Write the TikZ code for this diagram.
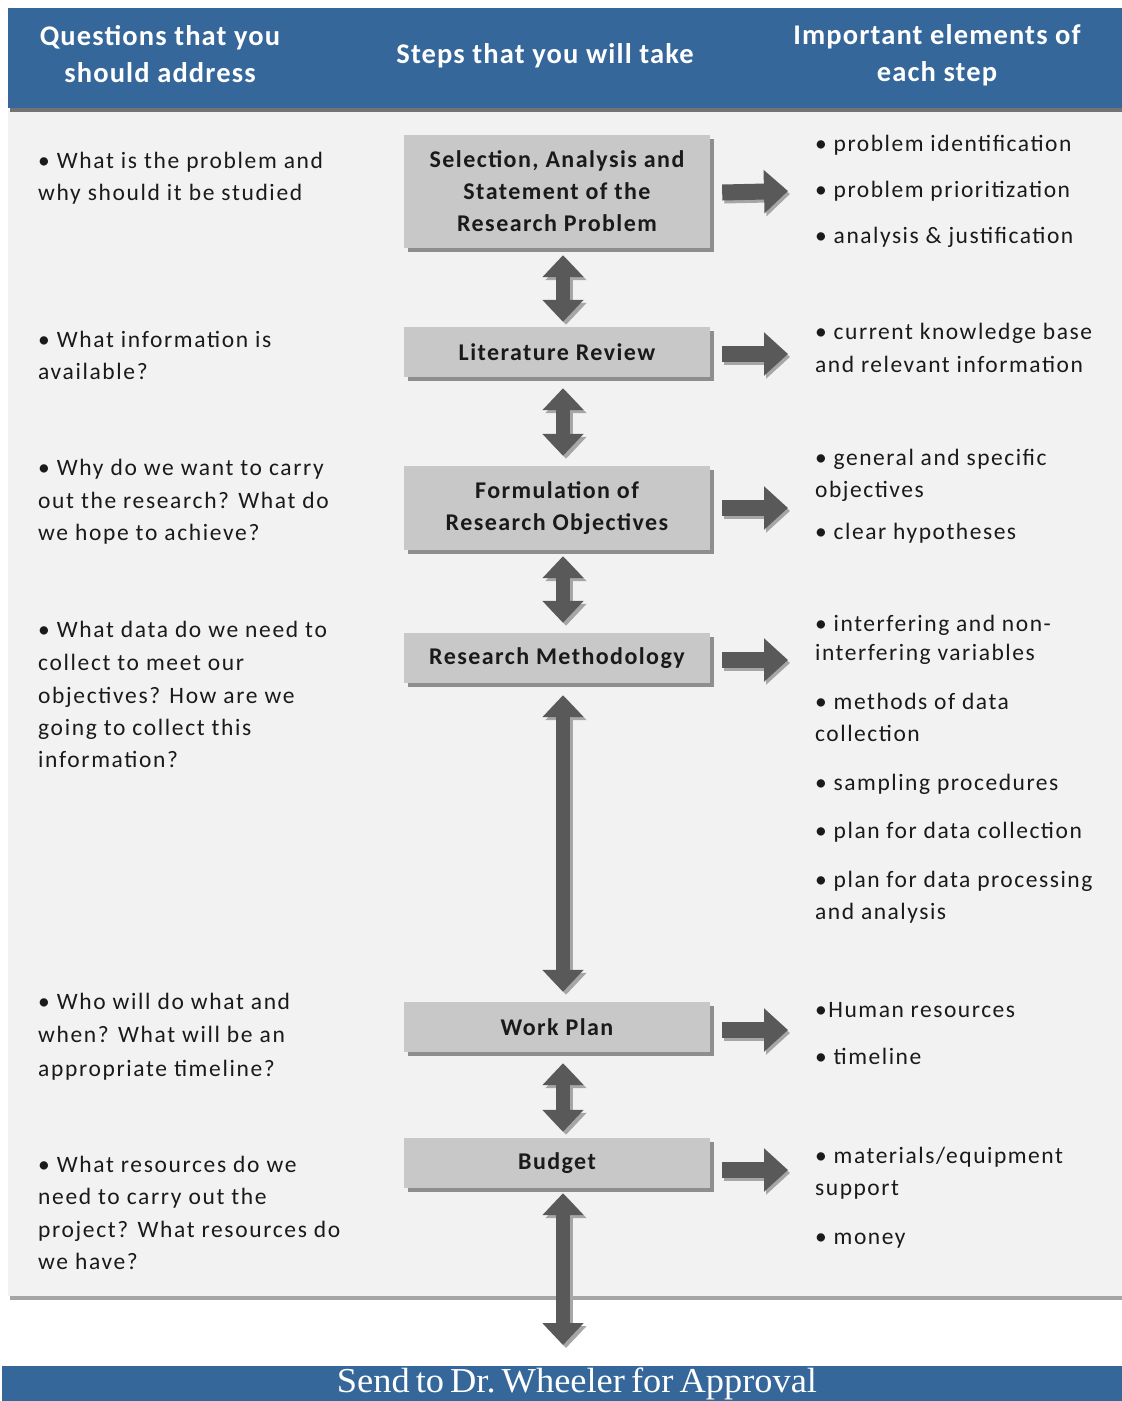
\documentclass[tikz,border=0pt]{standalone}
\usepackage{fontspec}
\setmainfont{Carlito}
\newfontfamily\bannerfont{Liberation Serif}
\usetikzlibrary{arrows.meta}
\definecolor{hdrblue}{HTML}{35679A}
\definecolor{panel}{HTML}{F2F2F2}
\definecolor{boxfill}{HTML}{C8C8C8}
\definecolor{boxshadow}{HTML}{8E8E8E}
\definecolor{arr}{HTML}{595959}
\definecolor{arrsh}{HTML}{A6A6A6}
\definecolor{txt}{HTML}{1A1A1A}
\tikzset{
  stepbox/.style={fill=boxfill, minimum width=306pt, inner sep=0pt, align=center,
    font=\fontsize{24}{32}\selectfont\bfseries\addfontfeature{LetterSpace=6}, text=txt},
  hdr/.style={text=white, align=center, font=\fontsize{28.5}{37}\selectfont\bfseries\addfontfeature{LetterSpace=4}},
  qline/.style={anchor=mid west, inner sep=0pt, yshift=-6pt, text=txt, font=\fontsize{23.5}{30}\selectfont\addfontfeature{LetterSpace=7}},
  eline/.style={anchor=mid west, inner sep=0pt, yshift=-6pt, text=txt, font=\fontsize{23.5}{30}\selectfont\addfontfeature{LetterSpace=6.5}},
  varrow/.style={line width=14pt, draw=arr, {Triangle[width=40pt,length=22pt]}-{Triangle[width=40pt,length=22pt]}},
  varrowsh/.style={varrow, draw=arrsh, transform canvas={xshift=3pt,yshift=-3pt}},
  rarrow/.style={line width=16pt, draw=arr, -{Triangle[width=42pt,length=24pt]}},
  rarrowsh/.style={rarrow, draw=arrsh, transform canvas={xshift=2pt,yshift=-3pt}},
}
\newcommand{\mkbox}[4]{%
  \fill[boxshadow] (404+4,#2+4) rectangle (710+4,#3+4);
  \node[stepbox, minimum height={#3-#2}] (#1) at (557,{(#2+#3)/2}) {#4};}
\newcommand{\dbl}[2]{%
  \draw[varrowsh] #1 -- #2;
  \draw[varrow] #1 -- #2;}
\newcommand{\rgt}[2]{%
  \draw[rarrowsh] #1 -- #2;
  \draw[rarrow] #1 -- #2;}
\begin{document}
\begin{tikzpicture}[x=1pt,y=-1pt]
\useasboundingbox (0,0) rectangle (1122,1401);
\fill[white] (0,0) rectangle (1122,1401);
% body panel
\fill[black!35] (10,1294) rectangle (1122,1300);
\fill[panel] (8,110) rectangle (1122,1296);
% header
\fill[black!55] (10,104) rectangle (1122,112);
\fill[hdrblue] (8,8) rectangle (1122,108);
\node[hdr] (h1) at (160,54) {Questions that you\\should address};
\node[hdr] (h2) at (545,56) {Steps that you will take};
\node[hdr] (h3) at (937,55) {Important elements of\\each step};
% bottom banner
\fill[hdrblue] (2,1366) rectangle (1122,1401);
\node[inner sep=0pt, text=white, font=\bannerfont\fontsize{35}{35}\selectfont] (banner) at (577,1383.5)
  {\scalebox{1.04}[1]{Send\,to\,Dr.\,Wheeler\,for\,Approval}};
\coordinate (bannertop) at (563,1345);
% step boxes
\mkbox{b1}{135}{248}{Selection, Analysis and\\Statement of the\\Research Problem}
\mkbox{b2}{327}{377}{Literature Review}
\mkbox{b3}{466}{550}{Formulation of\\Research Objectives}
\mkbox{b4}{633}{683}{Research Methodology}
\mkbox{b5}{1002}{1052}{Work Plan}
\mkbox{b6}{1138}{1188}{Budget}
% vertical arrows
\dbl{([xshift=6pt,yshift=-7pt]b1.south)}{([xshift=6pt,yshift=5pt]b2.north)}
\dbl{([xshift=6pt,yshift=-11pt]b2.south)}{([xshift=6pt,yshift=10pt]b3.north)}
\dbl{([xshift=6pt,yshift=-6pt]b3.south)}{([xshift=6pt,yshift=10pt]b4.north)}
\dbl{([xshift=6pt,yshift=-12pt]b4.south)}{([xshift=6pt,yshift=10pt]b5.north)}
\dbl{([xshift=6pt,yshift=-11pt]b5.south)}{([xshift=6pt,yshift=6pt]b6.north)}
\dbl{([xshift=6pt,yshift=-5pt]b6.south)}{(bannertop)}
% right arrows
\rgt{([xshift=12pt,yshift=-1pt]b1.east)}{(788,191)}
\rgt{([xshift=12pt,yshift=-2pt]b2.east)}{(788,354)}
\rgt{([xshift=12pt]b3.east)}{(788,508)}
\rgt{([xshift=12pt,yshift=-2pt]b4.east)}{(788,660)}
\rgt{([xshift=12pt,yshift=-3pt]b5.east)}{(788,1030)}
\rgt{([xshift=12pt,yshift=-7pt]b6.east)}{(788,1170)}
% questions
\node[qline] (q1a) at (38,160) {\textbullet\ What is the problem and};
\node[qline] (q1b) at (38,192) {why should it be studied};
\node[qline] (q2a) at (38,339) {\textbullet\ What information is};
\node[qline] (q2b) at (38,371) {available?};
\node[qline] (q3a) at (38,467) {\textbullet\ Why do we want to carry};
\node[qline] (q3b) at (38,500) {out the research? What do};
\node[qline] (q3c) at (38,532) {we hope to achieve?};
\node[qline] (q4a) at (38,629) {\textbullet\ What data do we need to};
\node[qline] (q4b) at (38,662) {collect to meet our};
\node[qline] (q4c) at (38,695) {objectives? How are we};
\node[qline] (q4d) at (38,727) {going to collect this};
\node[qline] (q4e) at (38,759) {information?};
\node[qline] (q5a) at (38,1001) {\textbullet\ Who will do what and};
\node[qline] (q5b) at (38,1034) {when? What will be an};
\node[qline] (q5c) at (38,1068) {appropriate timeline?};
\node[qline] (q6a) at (38,1164) {\textbullet\ What resources do we};
\node[qline] (q6b) at (38,1196) {need to carry out the};
\node[qline] (q6c) at (38,1229) {project? What resources do};
\node[qline] (q6d) at (38,1261) {we have?};
% elements
\node[eline] (e1a) at (815,143) {\textbullet\ problem identification};
\node[eline] (e1b) at (815,189) {\textbullet\ problem prioritization};
\node[eline] (e1c) at (815,235) {\textbullet\ analysis \& justification};
\node[eline] (e2a) at (815,331) {\textbullet\ current knowledge base};
\node[eline] (e2b) at (815,364) {and relevant information};
\node[eline] (e3a) at (815,457) {\textbullet\ general and specific};
\node[eline] (e3b) at (815,489) {objectives};
\node[eline] (e3c) at (815,531) {\textbullet\ clear hypotheses};
\node[eline] (e4a) at (815,623) {\textbullet\ interfering and non-};
\node[eline] (e4b) at (815,652) {interfering variables};
\node[eline] (e4c) at (815,701) {\textbullet\ methods of data};
\node[eline] (e4d) at (815,733) {collection};
\node[eline] (e4e) at (815,782) {\textbullet\ sampling procedures};
\node[eline] (e4f) at (815,830) {\textbullet\ plan for data collection};
\node[eline] (e4g) at (815,879) {\textbullet\ plan for data processing};
\node[eline] (e4h) at (815,911) {and analysis};
\node[eline] (e5a) at (815,1009) {\textbullet Human resources};
\node[eline] (e5b) at (815,1056) {\textbullet\ timeline};
\node[eline] (e6a) at (815,1155) {\textbullet\ materials/equipment};
\node[eline] (e6b) at (815,1187) {support};
\node[eline] (e6c) at (815,1236) {\textbullet\ money};
\end{tikzpicture}
\end{document}
